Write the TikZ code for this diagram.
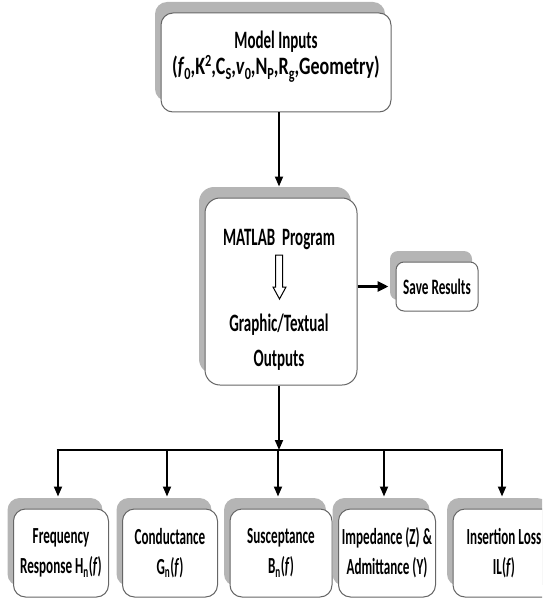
\documentclass[tikz,border=0pt]{standalone}
\usepackage{fontspec}
\setmainfont{Carlito}[FakeStretch=0.6]
\newfontfamily\bottomfam{Carlito}[FakeStretch=0.57]
\newfontfamily\widefam{Carlito}[FakeStretch=0.72]
\usetikzlibrary{arrows.meta,shadows,calc}
\newcommand{\mysub}[1]{\raisebox{-5pt}{\fontsize{17}{17}\selectfont #1}}
\newcommand{\mysup}[1]{\raisebox{8pt}{\fontsize{17}{17}\selectfont #1}}
\begin{document}
\begin{tikzpicture}[x=1pt,y=-1pt,
  box/.style={draw=black!60, line width=1pt, fill=white, rounded corners=12pt,
    inner sep=0pt, align=center,
    general shadow={fill=gray!58, shadow xshift=-6pt, shadow yshift=11pt}},
  bigfont/.style={font=\bfseries\fontsize{25}{25}\selectfont},
  savefont/.style={font=\bfseries\fontsize{22}{25}\selectfont},
  smallfont/.style={font=\bottomfam\bfseries\fontsize{23}{30}\selectfont},
  arr/.style={-{Triangle[length=10pt,width=8pt]}, line width=1.8pt},
  thickarr/.style={-{Triangle[length=11pt,width=10pt]}, line width=3.2pt},
  hollow/.style={draw=black, line width=1pt, fill=white}]
\useasboundingbox (0,0) rectangle (542,604);
\clip (0,0) rectangle (542,604);

% boxes
\node[box, minimum width=230pt, minimum height=99pt] (top) at (276,62.5) {};
\node[bigfont, align=center] (toptext) at (276,57)
  {Model Inputs\\[1pt]{\widefam(\textit{f}\mysub{0},K\mysup{2},C\mysub{S},\textit{v}\mysub{0},N\mysub{P},R\mysub{g},Geometry)}};
\node[box, rounded corners=15pt, minimum width=152pt, minimum height=187pt] (mid) at (281,291.5) {};
\node[box, savefont, rounded corners=8pt, minimum width=82pt, minimum height=49pt] (save) at (437,286.5) {Save Results};

\node[bigfont] (mt1) at (279,240) {MATLAB\ \ Program};
\node[bigfont] (mt2) at (279,325) {Graphic/Textual};
\node[bigfont] (mt3) at (279,360) {Outputs};
\draw[hollow] (275.5,255) -- (282.5,255) -- (282.5,287) -- (286,287) -- (279.5,299) -- (273,287) -- (275.5,287) -- cycle;

\node[box, smallfont, minimum width=95pt, minimum height=88pt] (b1) at (61,553)
  {Frequency\\Response H\textsubscript{n}(\textit{f})};
\node[box, smallfont, minimum width=95pt, minimum height=88pt] (b2) at (170,553)
  {Conductance\\G\textsubscript{n}(\textit{f})};
\node[box, smallfont, minimum width=102pt, minimum height=88pt] (b3) at (281,553)
  {Susceptance\\B\textsubscript{n}(\textit{f})};
\node[box, smallfont, minimum width=97pt, minimum height=88pt] (b4) at (387,553)
  {Impedance (Z) \&\\Admittance (Y)};
\node[box, smallfont, minimum width=102pt, minimum height=88pt] (b5) at (504,553)
  {Insertion Loss\\IL(\textit{f})};

% connectors
\coordinate (bar) at (279,450);
\coordinate (topout) at ($(top.south)+(3,0)$);
\coordinate (midin) at ($(mid.north)+(-2,-11)$);
\coordinate (midout) at ($(mid.south)+(-2,0)$);
\coordinate (savein) at ($(save.west)+(-7,0)$);
\draw[arr] (topout) -- (midin);
\draw[thickarr] (mid.east |- save.west) -- (savein);
\draw[arr] (midout) -- (bar);
\foreach \b/\dx in {b1/-3,b2/-3,b3/-3,b4/-3,b5/-2}{
  \coordinate (\b top) at ($(\b.north)+(\dx,-12)$);
  \coordinate (\b bar) at (\b top |- bar);
}
\draw[line width=2.6pt] ([xshift=-1.3pt]b1bar) -- ([xshift=1.3pt]b5bar);
\foreach \b in {b1,b2,b3,b4,b5}{
  \draw[arr] (\b bar) -- (\b top);
}
\end{tikzpicture}
\end{document}
